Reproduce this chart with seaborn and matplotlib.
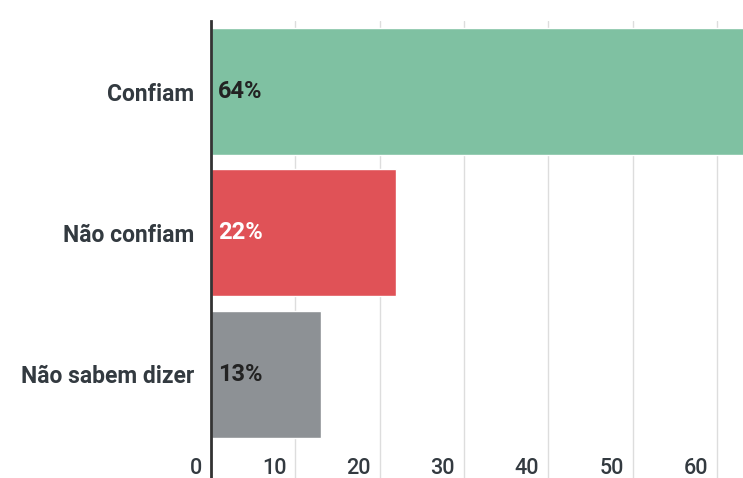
import matplotlib
matplotlib.use("Agg")
import matplotlib.pyplot as plt
import matplotlib.transforms as mtransforms
import seaborn as sns

categories = ["Confiam", "Não confiam", "Não sabem dizer"]
values = [64, 22, 13]
bar_colors = ["#7fc1a2", "#e05257", "#8d9195"]
label_colors = ["#222222", "#ffffff", "#222222"]
xticks = [0, 10, 20, 30, 40, 50, 60]

sns.set_style("white")
plt.rcParams["font.family"] = ["Roboto", "DejaVu Sans"]

fig = plt.figure(figsize=(7.43, 4.78), dpi=100)
ax = fig.add_axes([0.284, 0.0, 0.716, 0.956])

sns.barplot(x=values, y=categories, hue=categories, palette=bar_colors,
            legend=False, width=0.9, orient="h", ax=ax, saturation=1, zorder=2)

ax.set_xlim(0, 63.1)
ax.set_ylim(2.735, -0.5)
ax.set_xticks(xticks)
ax.grid(axis="x", color="#dddddd", linewidth=1, zorder=0)
ax.grid(axis="y", visible=False)
ax.set_axisbelow(True)

for side in ["top", "right", "bottom"]:
    ax.spines[side].set_visible(False)
ax.spines["left"].set_color("#333333")
ax.spines["left"].set_linewidth(2)
ax.spines["left"].set_zorder(3)

ax.set_xlabel("")
ax.set_ylabel("")
ax.tick_params(axis="y", length=0, pad=12, labelsize=16.5, labelcolor="#333a40")
ax.tick_params(axis="x", length=0, labelsize=15.5, labelcolor="#333a40")
for lbl in ax.get_yticklabels():
    lbl.set_fontweight("bold")

shift = mtransforms.ScaledTranslation(-9 / 100, 4 / 100, fig.dpi_scale_trans)
for lbl in ax.get_xticklabels():
    lbl.set_ha("right")
    lbl.set_va("bottom")
    lbl.set_fontweight("medium")
    lbl.set_transform(lbl.get_transform() + shift)

offset = mtransforms.ScaledTranslation(7 / 100, 0, fig.dpi_scale_trans)
for i, v in enumerate(values):
    ax.text(0, i, f"{v}%", ha="left", va="center", fontsize=17,
            fontweight="bold", color=label_colors[i],
            transform=ax.transData + offset, zorder=4)

fig.savefig("out.png", dpi=100)
plt.close(fig)
